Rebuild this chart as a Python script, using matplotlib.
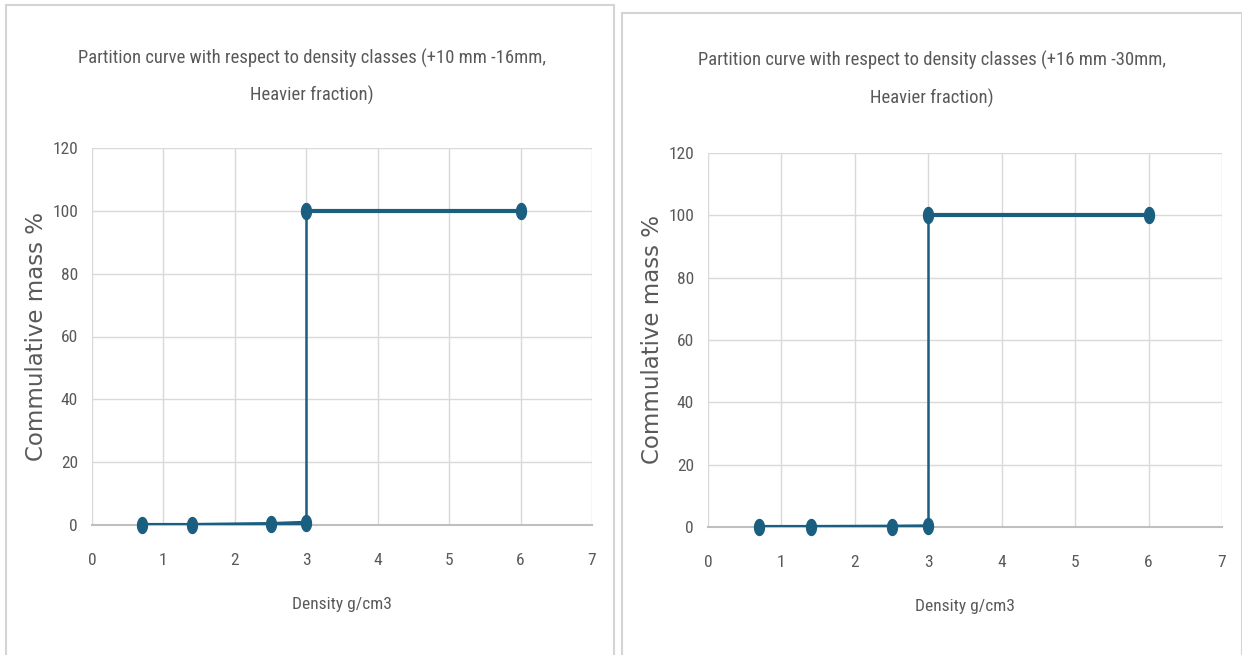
import numpy as np
import matplotlib.pyplot as plt
from matplotlib.path import Path
from matplotlib.patches import Rectangle

# data
density = [0.7, 1.4, 2.5, 3.0, 3.0, 6.0]
mass_10_16 = [0.0, 0.0, 0.3, 0.7, 100.0, 100.0]
mass_16_30 = [0.0, 0.0, 0.1, 0.2, 100.0, 100.0]

titles = ["Partition curve with respect to density classes (+10 mm -16mm,\nHeavier fraction)",
          "Partition curve with respect to density classes (+16 mm -30mm,\nHeavier fraction)"]
xticks = [0, 1, 2, 3, 4, 5, 6, 7]
yticks = [0, 20, 40, 60, 80, 100, 120]

W, H = 1242, 655
LINE = '#1b5f80'
GRID = '#d9d9d9'
TXT = '#595959'
NARROW = ['Roboto Condensed', 'Open Sans Condensed', 'DejaVu Sans']

# tall ellipse marker (the screenshot is squeezed horizontally)
t = np.linspace(0, 2*np.pi, 40)
ell = Path(np.column_stack([0.62*np.cos(t), np.sin(t)]), closed=True)


def px(x0, y0, x1, y1):
    return [x0/W, 1 - y1/H, (x1-x0)/W, (y1-y0)/H]


def draw(ax, x, y, title, tx, ty1, ty2):
    ax.set_xlim(0, 7)
    ax.set_ylim(0, 120)
    ax.set_xticks(xticks)
    ax.set_yticks(yticks)
    ax.grid(True, color=GRID, lw=1.0)
    ax.set_axisbelow(True)
    for s in ['top', 'right', 'left']:
        ax.spines[s].set_visible(False)
    ax.spines['bottom'].set_color('#bfbfbf')
    ax.spines['bottom'].set_linewidth(1.5)
    ax.tick_params(length=0, labelsize=12.5, labelcolor=TXT)
    ax.tick_params(axis='x', pad=20)
    ax.tick_params(axis='y', pad=10)
    for lab in ax.get_xticklabels() + ax.get_yticklabels():
        lab.set_family(NARROW)
    for i in range(len(x) - 1):
        lw = 1.8 if x[i] == x[i+1] else 3.0
        ax.plot(x[i:i+2], y[i:i+2], color=LINE, lw=lw, solid_capstyle='butt', zorder=3)
    ax.plot(x, y, ls='none', marker=ell, ms=11.5, color=LINE, zorder=4, clip_on=False)
    ax.set_xlabel('Density g/cm3', family=NARROW, fontsize=12.5, color=TXT, labelpad=21)
    ax.set_ylabel('Commulative mass %', family='DejaVu Sans', fontsize=16.5,
                  color=TXT, labelpad=3)
    l1, l2 = title.split('\n')
    fig.text(tx/W, 1 - ty1/H, l1, ha='center', va='center', family=NARROW,
             fontsize=13.4, color=TXT)
    fig.text(tx/W, 1 - ty2/H, l2, ha='center', va='center', family=NARROW,
             fontsize=13.4, color=TXT)


fig = plt.figure(figsize=(W/100, H/100), dpi=100)

# chart frames
fig.add_artist(Rectangle((6/W, -0.01), 608/W, 1 - 5/H + 0.01, transform=fig.transFigure,
                         fill=False, ec='#d4d4d4', lw=1.5))
fig.add_artist(Rectangle((622/W, -0.01), 620/W, 1 - 13/H + 0.01, transform=fig.transFigure,
                         fill=False, ec='#d4d4d4', lw=1.5))

ax1 = fig.add_axes(px(92, 148, 592, 525))
draw(ax1, density, mass_10_16, titles[0], 312, 58, 95)
ax2 = fig.add_axes(px(708, 153, 1222, 527))
draw(ax2, density, mass_16_30, titles[1], 932, 60, 98)

fig.savefig('out.png', dpi=100)
